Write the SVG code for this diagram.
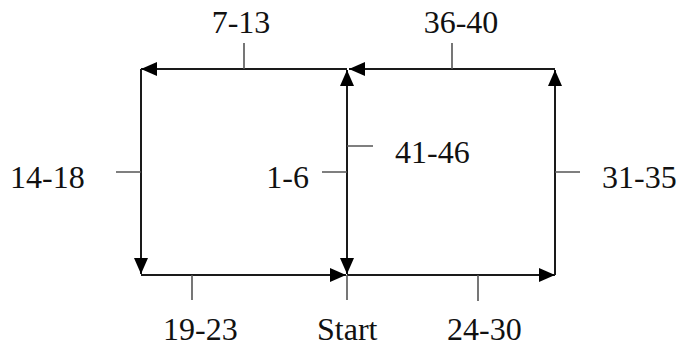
<svg xmlns="http://www.w3.org/2000/svg" width="681" height="349" viewBox="0 0 681 349">
<style>
.ln{stroke:#1a1a1a;stroke-width:2;fill:none}
.tk{stroke:#555;stroke-width:1.6;fill:none}
.lb{font-family:"Liberation Serif","Times New Roman",serif;font-size:32px;fill:#111}
</style>
<defs>
<marker id="ah" viewBox="0 0 16 14" refX="16" refY="7" markerWidth="16" markerHeight="14" markerUnits="userSpaceOnUse" orient="auto">
<path d="M0,0 L16,7 L0,14 z" fill="#000"/>
</marker>
<marker id="ahs" viewBox="0 0 16 14" refX="16" refY="7" markerWidth="16" markerHeight="14" markerUnits="userSpaceOnUse" orient="auto-start-reverse">
<path d="M0,0 L16,7 L0,14 z" fill="#000"/>
</marker>
</defs>
<rect width="681" height="349" fill="#fff"/>
<g id="connectors">
<path class="ln" d="M347,69 L141,69" marker-end="url(#ah)"/>
<path class="ln" d="M555,69 L349,69" marker-end="url(#ah)"/>
<path class="ln" d="M141,69 L141,274" marker-end="url(#ah)"/>
<path class="ln" d="M141,275 L346,275" marker-end="url(#ah)"/>
<path class="ln" d="M347,274 L347,70" marker-end="url(#ah)" marker-start="url(#ahs)"/>
<path class="ln" d="M347,275 L555,275" marker-end="url(#ah)"/>
<path class="ln" d="M555,275 L555,70" marker-end="url(#ah)"/>
<path class="tk" d="M244,43 V69 M452,43 V69 M116,172 H141 M322,172 H347 M347,146 H373 M555,172 H580 M192,275 V300 M347,275 V300 M478,275 V301"/>
</g>
<g id="seg-7-13"><text class="lb" x="241" y="33" text-anchor="middle">7-13</text></g>
<g id="seg-36-40"><text class="lb" x="461" y="33" text-anchor="middle">36-40</text></g>
<g id="seg-14-18"><text class="lb" x="10" y="188">14-18</text></g>
<g id="seg-1-6"><text class="lb" x="309" y="188" text-anchor="end">1-6</text></g>
<g id="seg-41-46"><text class="lb" x="395" y="163">41-46</text></g>
<g id="seg-31-35"><text class="lb" x="602" y="188">31-35</text></g>
<g id="seg-19-23"><text class="lb" x="163" y="340">19-23</text></g>
<g id="start"><text class="lb" x="317" y="340">Start</text></g>
<g id="seg-24-30"><text class="lb" x="447" y="340">24-30</text></g>
</svg>
